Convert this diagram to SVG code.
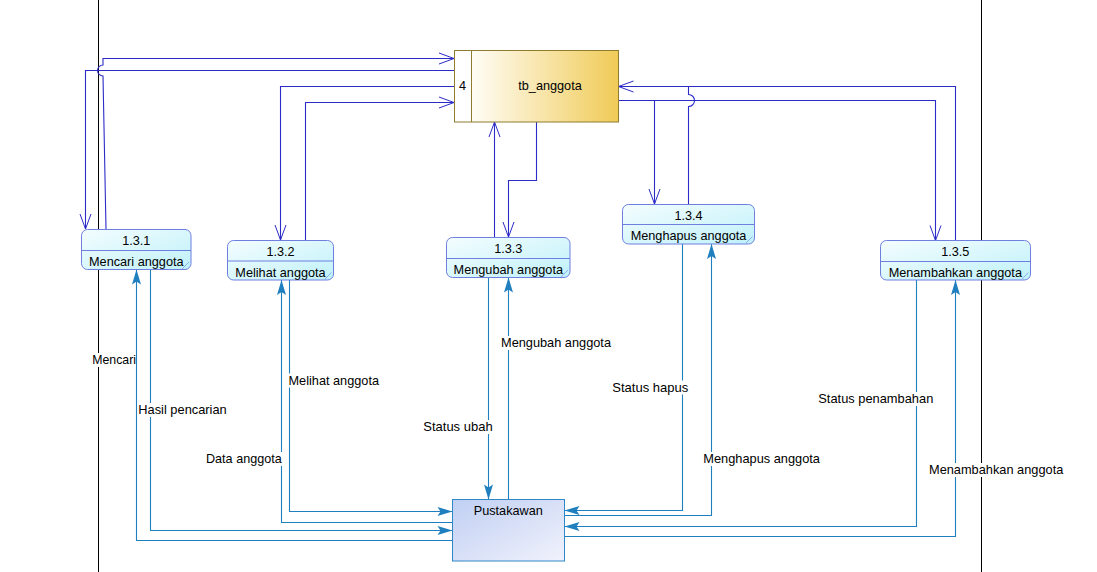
<svg xmlns="http://www.w3.org/2000/svg" width="1097" height="572" viewBox="0 0 1097 572">
<defs>
<linearGradient id="gProc" x1="0" y1="0" x2="1" y2="1">
<stop offset="0" stop-color="#f4fdfe"/><stop offset="1" stop-color="#bff1fa"/>
</linearGradient>
<linearGradient id="gStore" x1="0" y1="0" x2="1" y2="0">
<stop offset="0" stop-color="#fffdf6"/><stop offset="1" stop-color="#f0cb58"/>
</linearGradient>
<linearGradient id="gExt" x1="0" y1="0" x2="1" y2="1">
<stop offset="0" stop-color="#c0cff3"/><stop offset="1" stop-color="#f1f2fc"/>
</linearGradient>
<marker id="aOpen" markerUnits="userSpaceOnUse" markerWidth="17" markerHeight="12" refX="15" refY="5.5" orient="auto" overflow="visible">
<path d="M0,0 L15,5.5 L0,11" fill="none" stroke="#2b2bc8" stroke-width="1"/>
</marker>
<marker id="aFill" markerUnits="userSpaceOnUse" markerWidth="16" markerHeight="10" refX="15" refY="4.5" orient="auto" overflow="visible">
<path d="M0,0 L15,4.5 L0,9 L3,4.5 z" fill="#1f7fbf"/>
</marker>
<clipPath id="c131"><rect x="81.5" y="229.5" width="109.5" height="40" rx="6"/></clipPath>
<clipPath id="c132"><rect x="227.5" y="240.5" width="106" height="39.5" rx="6"/></clipPath>
<clipPath id="c133"><rect x="446.5" y="237.5" width="123.5" height="40" rx="6"/></clipPath>
<clipPath id="c134"><rect x="622.5" y="204.5" width="132" height="39.5" rx="6"/></clipPath>
<clipPath id="c135"><rect x="880.5" y="240.5" width="150" height="39.5" rx="6"/></clipPath>
</defs>
<style>
text{font-family:"Liberation Sans",Arial,sans-serif;fill:#000}
.nt{font-size:12.7px;text-anchor:middle}
.lt{font-size:12.7px}
.proc{fill:url(#gProc);stroke:#6f7fe0;stroke-width:1}
.div{stroke:#6f7fe0;stroke-width:1}
.slash{stroke:#8fb0ee;stroke-width:1}
.top{fill:none;stroke:#2b2bc8;stroke-width:1.1}
.bot{fill:none;stroke:#1f7fbf;stroke-width:1.1}
.lbg{fill:#fff}
.frame{stroke:#000;stroke-width:1}
</style>
<rect width="1097" height="572" fill="#fff"/>
<g id="frame">
<line class="frame" x1="98.5" y1="0" x2="98.5" y2="572"/>
<line class="frame" x1="981.5" y1="0" x2="981.5" y2="572"/>
</g>
<g id="connectors">
<!-- top flows (blue, open arrows) -->
<path class="top" d="M106,229 L103,76 A5.5,5.5 0 0 1 103,65 L103,58.5 L454,58.5" marker-end="url(#aOpen)"/>
<path class="top" d="M454,70.5 L85.5,70.5 L85.5,229" marker-end="url(#aOpen)"/>
<path class="top" d="M454,86.5 L280.5,86.5 L280.5,240" marker-end="url(#aOpen)"/>
<path class="top" d="M305.5,240 L305.5,102.5 L454,102.5" marker-end="url(#aOpen)"/>
<path class="top" d="M494.5,237 L494.5,122" marker-end="url(#aOpen)"/>
<path class="top" d="M536.5,122 L536.5,180.5 L508.5,180.5 L508.5,237" marker-end="url(#aOpen)"/>
<path class="top" d="M618.5,100.5 L935.5,100.5 L935.5,240.5" marker-end="url(#aOpen)"/>
<path class="top" d="M654.5,100.5 L654.5,204" marker-end="url(#aOpen)"/>
<path class="top" d="M688.5,204 L688.5,106.5 A6,6 0 0 0 688.5,94.5 L688.5,86.5"/>
<path class="top" d="M955.5,240.5 L955.5,86.5 L618.5,86.5" marker-end="url(#aOpen)"/>
<!-- bottom flows (teal, filled arrows) -->
<path class="bot" d="M452.5,540.5 L136.5,540.5 L136.5,269.5" marker-end="url(#aFill)"/>
<path class="bot" d="M150.5,269.5 L150.5,530.5 L452.5,530.5" marker-end="url(#aFill)"/>
<path class="bot" d="M452.5,522.5 L281.5,522.5 L281.5,280" marker-end="url(#aFill)"/>
<path class="bot" d="M289.5,280 L289.5,511.5 L452.5,511.5" marker-end="url(#aFill)"/>
<path class="bot" d="M488.5,277.5 L488.5,499.5" marker-end="url(#aFill)"/>
<path class="bot" d="M508.5,499.5 L508.5,277.5" marker-end="url(#aFill)"/>
<path class="bot" d="M682.5,244 L682.5,510.5 L564.5,510.5" marker-end="url(#aFill)"/>
<path class="bot" d="M564.5,515.5 L711.5,515.5 L711.5,244" marker-end="url(#aFill)"/>
<path class="bot" d="M916.5,280 L916.5,526.5 L564.5,526.5" marker-end="url(#aFill)"/>
<path class="bot" d="M564.5,536.5 L955.5,536.5 L955.5,280" marker-end="url(#aFill)"/>
</g>
<g id="labels">
<rect class="lbg" x="92" y="353" width="44" height="14"/>
<text class="lt" x="92.3" y="364" textLength="43.7" lengthAdjust="spacingAndGlyphs">Mencari</text>
<rect class="lbg" x="138" y="403" width="89" height="14"/>
<text class="lt" x="138.3" y="414" textLength="88.4" lengthAdjust="spacingAndGlyphs">Hasil pencarian</text>
<rect class="lbg" x="205.5" y="452" width="77" height="14"/>
<text class="lt" x="206" y="463" textLength="75.7" lengthAdjust="spacingAndGlyphs">Data anggota</text>
<rect class="lbg" x="288" y="373.5" width="91" height="14"/>
<text class="lt" x="288.5" y="384.5" textLength="90.5" lengthAdjust="spacingAndGlyphs">Melihat anggota</text>
<rect class="lbg" x="500.5" y="336" width="111" height="14"/>
<text class="lt" x="501" y="347" textLength="110" lengthAdjust="spacingAndGlyphs">Mengubah anggota</text>
<rect class="lbg" x="423" y="420" width="70" height="14"/>
<text class="lt" x="423.3" y="431" textLength="69.3" lengthAdjust="spacingAndGlyphs">Status ubah</text>
<rect class="lbg" x="612" y="380.5" width="77" height="14"/>
<text class="lt" x="612.3" y="391.5" textLength="76" lengthAdjust="spacingAndGlyphs">Status hapus</text>
<rect class="lbg" x="818" y="392" width="116" height="14"/>
<text class="lt" x="818.3" y="403" textLength="115" lengthAdjust="spacingAndGlyphs">Status penambahan</text>
<rect class="lbg" x="703" y="452" width="117.5" height="14"/>
<text class="lt" x="703.3" y="463" textLength="116.7" lengthAdjust="spacingAndGlyphs">Menghapus anggota</text>
<rect class="lbg" x="928.5" y="463" width="135.5" height="14"/>
<text class="lt" x="929" y="474" textLength="134.3" lengthAdjust="spacingAndGlyphs">Menambahkan anggota</text>
</g>
<g id="tb_anggota">
<rect x="471.5" y="50.5" width="147" height="71.5" fill="url(#gStore)"/>
<rect x="454.5" y="50.5" width="17" height="71.5" fill="#fff"/>
<rect x="454.5" y="50.5" width="164" height="71.5" fill="none" stroke="#8f7c2e" stroke-width="1"/>
<line x1="471.5" y1="50.5" x2="471.5" y2="122" stroke="#8f7c2e" stroke-width="1"/>
<text class="nt" x="462.5" y="90">4</text>
<text class="nt" x="550" y="90">tb_anggota</text>
</g>
<g id="p131">
<rect class="proc" x="81.5" y="229.5" width="109.5" height="40" rx="6"/>
<line class="div" x1="81.5" y1="250.5" x2="191" y2="250.5"/>
<text class="nt" x="136.3" y="244.8">1.3.1</text>
<text class="nt" x="136.3" y="266" clip-path="url(#c131)">Mencari anggota</text>
<line class="slash" x1="189" y1="262" x2="182" y2="269"/>
</g>
<g id="p132">
<rect class="proc" x="227.5" y="240.5" width="106" height="39.5" rx="6"/>
<line class="div" x1="227.5" y1="261" x2="333.5" y2="261"/>
<text class="nt" x="280.5" y="255.8">1.3.2</text>
<text class="nt" x="280.5" y="276.5" clip-path="url(#c132)">Melihat anggota</text>
<line class="slash" x1="331.5" y1="272.5" x2="324.5" y2="279.5"/>
</g>
<g id="p133">
<rect class="proc" x="446.5" y="237.5" width="123.5" height="40" rx="6"/>
<line class="div" x1="446.5" y1="258.5" x2="570" y2="258.5"/>
<text class="nt" x="508.3" y="252.8">1.3.3</text>
<text class="nt" x="508.3" y="273.8" clip-path="url(#c133)">Mengubah anggota</text>
<line class="slash" x1="568" y1="270" x2="561" y2="277"/>
</g>
<g id="p134">
<rect class="proc" x="622.5" y="204.5" width="132" height="39.5" rx="6"/>
<line class="div" x1="622.5" y1="224.5" x2="754.5" y2="224.5"/>
<text class="nt" x="688.5" y="219.8">1.3.4</text>
<text class="nt" x="688.5" y="240" clip-path="url(#c134)">Menghapus anggota</text>
<line class="slash" x1="752.5" y1="236.5" x2="745.5" y2="243.5"/>
</g>
<g id="p135">
<rect class="proc" x="880.5" y="240.5" width="150" height="39.5" rx="6"/>
<line class="div" x1="880.5" y1="261.5" x2="1030.5" y2="261.5"/>
<text class="nt" x="955.3" y="256.2">1.3.5</text>
<text class="nt" x="955.3" y="277" clip-path="url(#c135)">Menambahkan anggota</text>
<line class="slash" x1="1028.5" y1="272.5" x2="1021.5" y2="279.5"/>
</g>
<g id="pustakawan">
<rect x="452.5" y="499.5" width="112" height="61.5" fill="url(#gExt)" stroke="#2e88c8" stroke-width="1"/>
<text class="nt" x="508.3" y="514.5">Pustakawan</text>
</g>
</svg>
